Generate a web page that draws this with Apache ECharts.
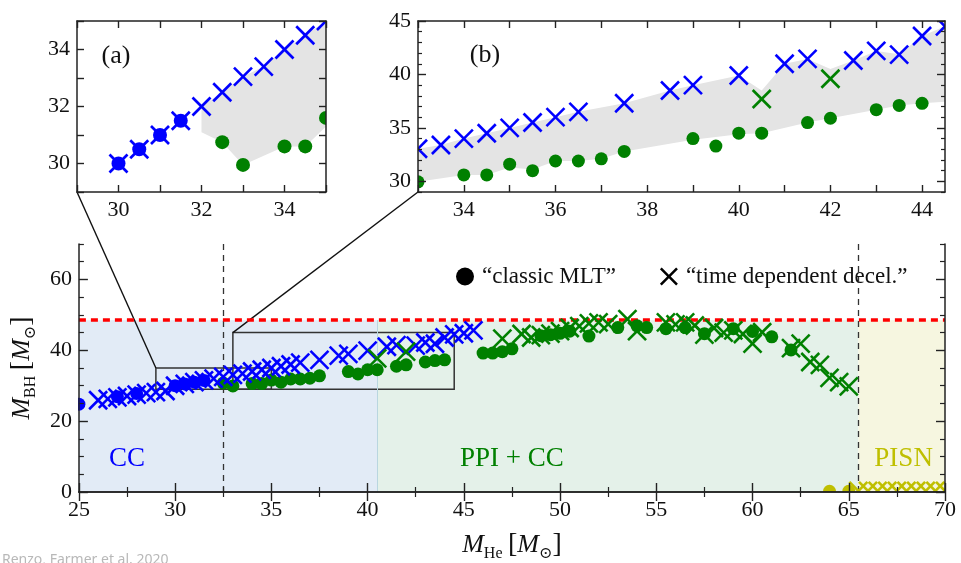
<!DOCTYPE html>
<html><head><meta charset="utf-8">
<script src="https://cdn.jsdelivr.net/npm/echarts@6/dist/echarts.min.js"></script>
<style>html,body{margin:0;padding:0;background:#fff}#c{width:961px;height:563px}</style>
</head><body><div id="c"></div>
<script>
// ---------------- data (M_He, M_BH) ----------------
const classicCC = [[25,24.8],[27,26.9],[28,27.8],[30,30.0],[30.5,30.5],[31,31.0],[31.5,31.5]];
const classicPPI = [[32.5,30.75],[33,29.95],[34,30.6],[34.5,30.6],[35,31.6],[35.5,31.0],[36,31.9],[36.5,31.9],[37,32.1],[37.5,32.8],[39,34.0],[39.5,33.3],[40,34.5],[40.5,34.5],[41.5,35.5],[42,35.9],[43,36.7],[43.5,37.1],[44,37.3],[46,39.2],[46.5,39.2],[47,39.6],[47.5,40.4],[49,44.1],[49.5,44.4],[50,44.8],[50.5,45.4],[51.5,44.0],[53,46.4],[54,46.9],[54.5,46.4],[55.5,46.1],[56.5,46.4],[57.5,44.7],[59,46.1],[60,45.3],[61,43.8],[62,40.1]];
const classicPISN = [[64,0.2],[65,0.2]];
const timedepCC = [[26,25.9],[26.5,26.3],[27,26.7],[27.5,27.1],[28,27.5],[28.5,27.9],[29,28.2],[29.5,28.5],[30,30.0],[30.5,30.5],[31,31.0],[31.5,31.5],[32,32.0],[32.5,32.5],[33,33.05],[33.5,33.4],[34,34.0],[34.5,34.5],[35,35.0],[35.5,35.5],[36,36.0],[36.5,36.5],[37.5,37.3],[38.5,38.5],[39,39.0],[40,39.9],[41,41.0],[41.5,41.45],[42.5,41.3],[43,42.2],[43.5,41.85],[44,43.6],[44.5,44.5],[45,44.8],[45.5,45.6]];
const timedepPPI = [[40.5,37.7],[42,39.6],[47,43.3],[48,44.6],[48.5,43.6],[49,44.3],[49.5,44.7],[50,45.4],[50.5,46.3],[51,46.8],[51.5,47.6],[52,47.9],[52.5,47.4],[53.5,48.8],[54,45.4],[55.5,47.9],[56,47.3],[56.5,47.9],[57,47.0],[57.5,44.4],[58,46.3],[58.5,45.0],[59,45.6],[59.5,44.6],[60,41.9],[60.5,45.1],[62,40.6],[62.5,41.9],[63,36.7],[63.5,35.9],[64,32.2],[64.5,31.0],[65,29.8]];
const timedepPISN = [[65.5,0.3],[66,0.3],[66.5,0.3],[67,0.3],[67.5,0.3],[68,0.3],[68.5,0.3],[69,0.3],[69.5,0.3],[70,0.3]];
const bandUpper = [[32,32],[32.5,32.5],[33,33.05],[33.5,33.4],[34,34.0],[34.5,34.5],[35,35.0],[35.5,35.5],[36,36.0],[36.5,36.5],[37.5,37.3],[38.5,38.5],[39,39.0],[40,39.9],[40.5,38.5],[41,41.0],[41.5,41.45],[42,40.5],[42.5,41.3],[43,42.2],[43.5,41.9],[44,43.6],[44.5,44.5],[45,44.8]];
const bandLower = [[32,31.1],[32.5,30.75],[33,29.95],[34,30.6],[34.5,30.6],[35,31.3],[35.5,31.1],[36,31.9],[36.5,31.9],[37,32.1],[37.5,32.8],[39,33.9],[40,34.4],[40.5,34.5],[41.5,35.5],[42,35.9],[43,36.7],[43.5,37.1],[44,37.3],[45,37.6]];
const regionEdges = [25, 40.5, 65.5, 70];   // CC | PPI+CC | PISN
const regionNames = ['CC', 'PPI + CC', 'PISN'];
const maxBH = 48.5;
const dashedX = [32.5, 65.5];
const zoomA = {x:[29,35], y:[29,35]};
const zoomB = {x:[33,44.5], y:[29,45]};
const mainXLabels = [25,30,35,40,45,50,55,60,65,70];
const mainYLabels = [0,20,40,60];
const insetALabels = [30,32,34];
const insetBXLabels = [34,36,38,40,42,44];
const insetBYLabels = [30,35,40,45];
const legendNames = ['“classic MLT”', '“time dependent decel.”'];

// ---------------- styling ----------------
const FONT = '"Liberation Serif","DejaVu Serif",serif';
const BLUE = '#0000ff', GREEN = '#008000', YELLOW = '#bfbf00';
const regionColors = ['#e2ebf6', '#e4f1e9', '#f6f6e0'];
const regionTextColors = [BLUE, GREEN, YELLOW];
const XPATH = 'path://M1,0L5,4L9,0L10,1L6,5L10,9L9,10L5,6L1,10L0,9L4,5L0,1Z';

function range(a, b, s) { const r = []; for (let v = a; v <= b + 1e-9; v += s) r.push(Math.round(v * 100) / 100); return r; }
function without(arr, ex) { return arr.filter(v => ex.indexOf(v) < 0); }

const xAxes = [], yAxes = [];
function addAxis(list, gridIndex, position, min, max, ticks, tickLen, labels, minor, minorLen, extra) {
  const base = {type:'value', gridIndex, position, min, max, z:10, splitLine:{show:false}, silent:true};
  const idx = list.length;
  list.push(Object.assign({}, base, {
    axisLine:{show:true, lineStyle:{color:'#222', width:1.5}},
    axisTick:{show:true, inside:true, length:tickLen, customValues:ticks, lineStyle:{color:'#222', width:1.4}},
    axisLabel:labels.length ? {show:true, customValues:labels, fontFamily:FONT, fontSize:22, color:'#111', margin:7} : {show:false}
  }, extra || {}));
  if (minor && minor.length) list.push(Object.assign({}, base, {
    axisLine:{show:false},
    axisTick:{show:true, inside:true, length:minorLen, customValues:minor, lineStyle:{color:'#222', width:1.2}},
    axisLabel:{show:false}
  }));
  return idx;
}

const richName = {
  i:{fontStyle:'italic', fontSize:26, fontFamily:FONT, color:'#111', lineHeight:34, verticalAlign:'middle'},
  s:{fontSize:16, fontFamily:FONT, color:'#111', verticalAlign:'bottom', lineHeight:34},
  b:{fontSize:28, fontFamily:FONT, color:'#111', lineHeight:34, verticalAlign:'middle'},
  p:{fontSize:22, fontFamily:FONT, lineHeight:34}
};
const axisNameStr = (sub) => '{i|M}{s|' + sub + '}{p| }{b|[}{i|M}{s|⊙}{b|]}';

// main grid (0)
const mainXTicks = range(25,70,5), mainXMinor = range(27.5,67.5,5);
const mainYTicks = range(0,65,5).filter(v => v % 20 === 0), mainYMinor = without(range(0,70,5), range(0,60,20));
const mX = addAxis(xAxes, 0, 'bottom', 25, 70, mainXTicks, 9, mainXLabels, mainXMinor, 5,
  {name: axisNameStr('He'), nameLocation:'middle', nameGap:36, nameTextStyle:{rich:richName}});
addAxis(xAxes, 0, 'top', 25, 70, mainXTicks, 9, [], mainXMinor, 5);
const mY = addAxis(yAxes, 0, 'left', 0, 70, mainYTicks, 9, mainYLabels, mainYMinor, 5,
  {name: axisNameStr('BH'), nameLocation:'middle', nameGap:38, nameRotate:90, nameTextStyle:{rich:richName}});
addAxis(yAxes, 0, 'right', 0, 70, mainYTicks, 9, [], mainYMinor, 5);
// inset a (1)
const aTicks = range(29,35,1);
const aX = addAxis(xAxes, 1, 'bottom', zoomA.x[0], zoomA.x[1], aTicks, 7, insetALabels);
addAxis(xAxes, 1, 'top', zoomA.x[0], zoomA.x[1], aTicks, 7, []);
const aY = addAxis(yAxes, 1, 'left', zoomA.y[0], zoomA.y[1], aTicks, 7, insetALabels);
addAxis(yAxes, 1, 'right', zoomA.y[0], zoomA.y[1], aTicks, 7, []);
// inset b (2)
const bXTicks = range(33,44,1);
const bYMinor = without(range(29,45,1), insetBYLabels);
const bX = addAxis(xAxes, 2, 'bottom', zoomB.x[0], zoomB.x[1], bXTicks, 7, insetBXLabels);
addAxis(xAxes, 2, 'top', zoomB.x[0], zoomB.x[1], bXTicks, 7, []);
const bY = addAxis(yAxes, 2, 'left', zoomB.y[0], zoomB.y[1], insetBYLabels, 8, insetBYLabels, bYMinor, 4);
addAxis(yAxes, 2, 'right', zoomB.y[0], zoomB.y[1], insetBYLabels, 8, [], bYMinor, 4);

function markers(data, kind, color, xi, yi, size, lw) {
  return {type:'custom', xAxisIndex:xi, yAxisIndex:yi, clip:true, z:5, silent:true, data:data,
    itemStyle:{color:color},
    renderItem:function(params, api){
      const p = api.coord([api.value(0), api.value(1)]);
      if (kind === 'dot') return {type:'circle', shape:{cx:p[0], cy:p[1], r:size/2}, style:{fill:color}};
      const h = size/2;
      return {type:'group', children:[
        {type:'line', shape:{x1:p[0]-h, y1:p[1]-h, x2:p[0]+h, y2:p[1]+h}, style:{stroke:color, lineWidth:lw}},
        {type:'line', shape:{x1:p[0]-h, y1:p[1]+h, x2:p[0]+h, y2:p[1]-h}, style:{stroke:color, lineWidth:lw}}
      ]};
    }};
}
function band(xi, yi) {
  return {type:'custom', xAxisIndex:xi, yAxisIndex:yi, clip:true, z:2, silent:true, data:[bandUpper[0]],
    renderItem:function(params, api){
      const pts = bandUpper.concat(bandLower.slice().reverse()).map(p => api.coord(p));
      return {type:'polygon', shape:{points:pts}, style:{fill:'#e4e4e4'}};
    }};
}
function allMarkers(xi, yi, dot, xs, lw) {
  return [
    markers(classicCC, 'dot', BLUE, xi, yi, dot, lw),
    markers(classicPPI, 'dot', GREEN, xi, yi, dot, lw),
    markers(classicPISN, 'dot', YELLOW, xi, yi, dot, lw),
    markers(timedepCC, 'x', BLUE, xi, yi, xs, lw),
    markers(timedepPPI, 'x', GREEN, xi, yi, xs, lw),
    markers(timedepPISN, 'x', YELLOW, xi, yi, xs, lw)
  ];
}

const regionAreas = regionColors.map((c, i) => [
  {xAxis:regionEdges[i], yAxis:0, itemStyle:{color:c}}, {xAxis:regionEdges[i+1], yAxis:maxBH}]);

const series = [
  {type:'scatter', xAxisIndex:mX, yAxisIndex:mY, data:[], silent:true, z:1,
    markArea:{silent:true, data:regionAreas},
    markLine:{silent:true, symbol:'none', label:{show:false},
      data:[[{coord:[regionEdges[1],0]},{coord:[regionEdges[1],maxBH]}]],
      lineStyle:{color:'#b9d6df', width:1, type:'solid'}}},
  {type:'scatter', xAxisIndex:mX, yAxisIndex:mY, data:[], silent:true, z:3,
    markArea:{silent:true, itemStyle:{color:'rgba(0,0,0,0)', borderColor:'#333', borderWidth:1.5},
      data:[[{xAxis:zoomA.x[0], yAxis:zoomA.y[0]},{xAxis:zoomA.x[1], yAxis:zoomA.y[1]}],
            [{xAxis:zoomB.x[0], yAxis:zoomB.y[0]},{xAxis:zoomB.x[1], yAxis:zoomB.y[1]}]]},
    markLine:{silent:true, symbol:'none', label:{show:false}, data:[
      {xAxis:dashedX[0], lineStyle:{color:'#333', width:1.3, type:[6,5]}},
      {xAxis:dashedX[1], lineStyle:{color:'#333', width:1.3, type:[6,5]}},
      {yAxis:maxBH, lineStyle:{color:'#ff0000', width:3.5, type:[7,5]}}
    ]}},
  band(aX, aY), band(bX, bY)
].concat(allMarkers(mX, mY, 13, 18, 2.6), allMarkers(aX, aY, 14, 18, 2.6), allMarkers(bX, bY, 13, 18, 2.6));

series.push({type:'custom', name:legendNames[0], xAxisIndex:mX, yAxisIndex:mY, data:[], itemStyle:{color:'#000'}, renderItem:()=>null});
series.push({type:'custom', name:legendNames[1], xAxisIndex:mX, yAxisIndex:mY, data:[], itemStyle:{color:'#000'}, renderItem:()=>null});

const chart = echarts.init(document.getElementById('c'), null, {renderer:'canvas'});
chart.setOption({
  animation:false,
  backgroundColor:'#fff',
  grid:[
    {left:77, top:244, width:868, height:256},
    {left:77, top:21, width:249, height:171},
    {left:418, top:21, width:527, height:171}
  ],
  xAxis:xAxes, yAxis:yAxes,
  legend:{left:451, top:260, itemWidth:18, itemHeight:18, itemGap:44, selectedMode:false,
    textStyle:{fontFamily:FONT, fontSize:23, color:'#111', padding:[0,0,0,3]},
    data:[{name:legendNames[0], icon:'circle'}, {name:legendNames[1], icon:XPATH}]},
  series:series
});

// annotations placed through the axes' scales
const toMain = v => chart.convertToPixel({xAxisIndex:mX, yAxisIndex:mY}, v);
const toA = v => chart.convertToPixel({xAxisIndex:aX, yAxisIndex:aY}, v);
const toB = v => chart.convertToPixel({xAxisIndex:bX, yAxisIndex:bY}, v);
const g = [];
const cA1 = toMain([zoomA.x[0], zoomA.y[1]]), cA2 = toA([zoomA.x[0], zoomA.y[0]]);
const cB1 = toMain([zoomB.x[0], zoomB.y[1]]), cB2 = toB([zoomB.x[0], zoomB.y[0]]);
g.push({type:'line', z:4, shape:{x1:cA1[0], y1:cA1[1], x2:cA2[0], y2:cA2[1]}, style:{stroke:'#111', lineWidth:1.4}});
g.push({type:'line', z:4, shape:{x1:cB1[0], y1:cB1[1], x2:cB2[0], y2:cB2[1]}, style:{stroke:'#111', lineWidth:1.4}});
const regionLabelX = [27.5, 47.5, 67.85];
regionNames.forEach((t, i) => {
  const p = toMain([regionLabelX[i], 9.3]);
  g.push({type:'text', z:6, x:p[0], y:p[1], style:{text:t, fill:regionTextColors[i], font:'27px ' + FONT, align:'center', verticalAlign:'middle'}});
});
const pa = toA([29.94, 33.77]), pb = toB([34.46, 41.8]);
g.push({type:'text', z:6, x:pa[0], y:pa[1], style:{text:'(a)', fill:'#111', font:'26px ' + FONT, align:'center', verticalAlign:'middle'}});
g.push({type:'text', z:6, x:pb[0], y:pb[1], style:{text:'(b)', fill:'#111', font:'26px ' + FONT, align:'center', verticalAlign:'middle'}});
g.push({type:'text', z:6, x:2, y:553, style:{text:'Renzo, Farmer et al. 2020', fill:'#b8b8b8', font:'14px "Noto Sans", sans-serif'}});
chart.setOption({graphic:g});
</script></body></html>
